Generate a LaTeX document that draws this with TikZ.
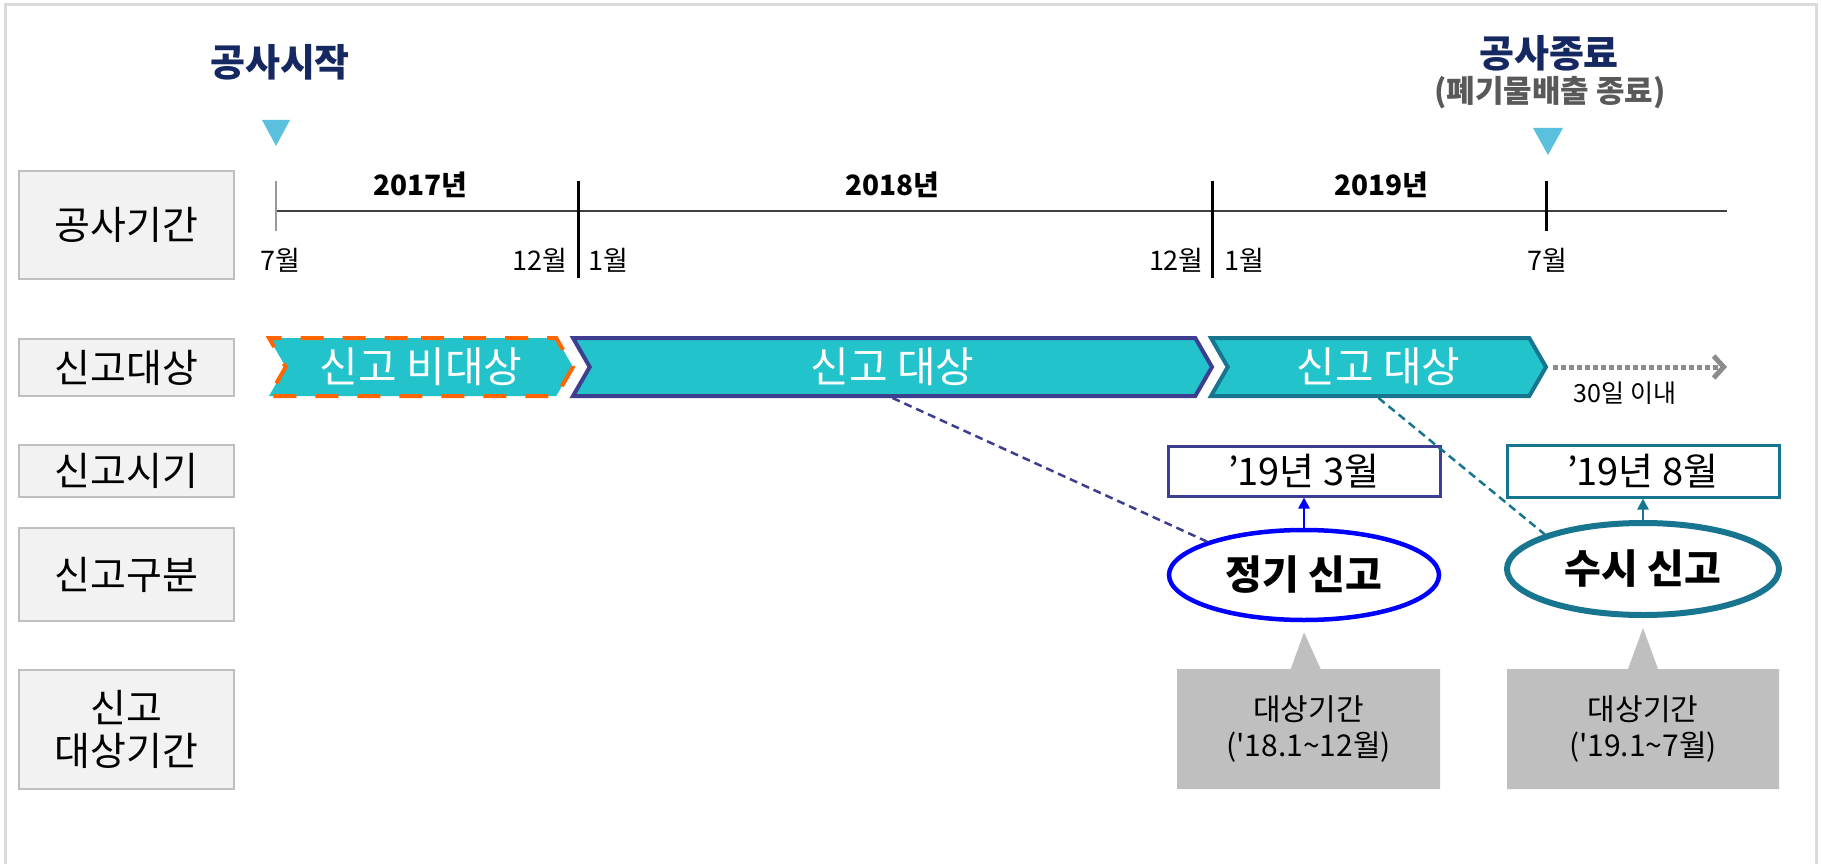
\documentclass[tikz,border=0pt]{standalone}
\usepackage{fontspec}
\setmainfont{Noto Sans CJK KR}
\usepackage{tikz}
\usetikzlibrary{arrows.meta,shapes.geometric,shapes.symbols,shapes.callouts,shadows}
\definecolor{cyanfill}{RGB}{35,195,204}
\definecolor{navytext}{RGB}{22,40,98}
\definecolor{periodline}{RGB}{62,62,145}
\definecolor{tealline}{RGB}{23,117,143}
\definecolor{markblue}{RGB}{91,192,222}
\definecolor{labelfill}{RGB}{242,242,242}
\definecolor{labelline}{RGB}{191,191,191}
\definecolor{calloutgray}{RGB}{191,191,191}
\definecolor{orangedash}{RGB}{255,102,0}
\definecolor{subgray}{RGB}{89,89,89}
\definecolor{framegray}{RGB}{218,218,218}
\newcommand{\fpx}[2]{\fontsize{#1pt}{#2pt}\selectfont}
\tikzstyle{rowlabel}=[draw=labelline,fill=labelfill,line width=2pt,minimum width=215pt,inner sep=0pt,align=center,font=\fpx{39}{43}]
\tikzstyle{milestone}=[text=navytext,font=\bfseries\fpx{38}{42}]
\tikzstyle{yearlabel}=[font=\bfseries\fpx{28}{32}]
\tikzstyle{monthlabel}=[font=\fpx{27}{30},inner sep=0pt]
\tikzstyle{chevron}=[signal,signal from=west,signal to=east,signal pointer angle=120,fill=cyanfill,line width=4pt,minimum height=58pt,inner sep=0pt,text=white,font=\fpx{42}{46}]
\tikzstyle{datebox}=[draw,fill=white,line width=3pt,minimum width=272pt,minimum height=50pt,inner sep=0pt,font=\fpx{38}{42}]
\tikzstyle{kind}=[ellipse,fill=white,inner sep=0pt,font=\bfseries\fpx{40}{44},drop shadow={shadow xshift=1pt,shadow yshift=-1.5pt,fill=black!30}]
\tikzstyle{span}=[rectangle callout,fill=calloutgray,minimum height=120pt,callout pointer width=30pt,align=center,font=\fpx{30}{36}]
\tikzstyle{marker}=[fill=markblue]
\tikzstyle{tick}=[line width=3pt]
\tikzstyle{link}=[line width=2.5pt,dash pattern=on 8pt off 5pt]

\begin{document}
\begin{tikzpicture}[x=1pt,y=-1pt]
\useasboundingbox (0,0) rectangle (1821,864);
\draw[framegray,line width=3pt] (5,864) -- (5,5) -- (1816,5) -- (1816,864);

% row titles
\node[rowlabel,minimum height=108pt] (rowperiod) at (126.5,225) {공사기간};
\node[rowlabel,minimum height=57pt] (rowtarget) at (126.5,367.5) {신고대상};
\node[rowlabel,minimum height=52pt] (rowtime) at (126.5,471) {신고시기};
\node[rowlabel,minimum height=93pt] (rowkind) at (126.5,574.5) {신고구분};
\node[rowlabel,minimum height=119pt] (rowspan) at (126.5,729.5) {신고\\대상기간};

% milestones
\node[milestone] (start) at (280,62) {공사시작};
\fill[marker] (262,120) -- (290,120) -- (276,146) -- cycle;
\node[milestone] (finish) at (1549,53) {공사종료};
\node[text=subgray,font=\bfseries\fpx{31}{34}] (finishsub) at (1550,93) {(폐기물배출 종료)};
\fill[marker] (1533,128) -- (1563,128) -- (1548,155) -- cycle;

% time axis
\coordinate (t0) at (275.5,211);
\coordinate (tend) at (1727,211);
\draw[black!75,line width=2pt] (t0) -- (tend);
\draw[black!40,line width=2pt] (275.5,181) -- (275.5,231);
\draw[tick] (578,181) -- (578,278);
\draw[tick] (1212,181) -- (1212,278);
\draw[tick] (1546,181) -- (1546,231);
\node[yearlabel] (y17) at (420,185) {2017년};
\node[yearlabel] (y18) at (892,185) {2018년};
\node[yearlabel] (y19) at (1381,185) {2019년};
\node[monthlabel] (m17a) at (280,260) {7월};
\node[monthlabel,anchor=east] (m17b) at (568,260) {12월};
\node[monthlabel,anchor=west] (m18a) at (588,260) {1월};
\node[monthlabel,anchor=east] (m18b) at (1204,260) {12월};
\node[monthlabel,anchor=west] (m19a) at (1224,260) {1월};
\node[monthlabel] (m19b) at (1547,260) {7월};

% report target
\node[chevron,draw=orangedash,dash pattern=on 23pt off 19pt,minimum width=304pt] (chevA) at (421,367) {신고 비대상};
\node[chevron,draw=periodline,minimum width=639pt] (chevB) at (892.5,367) {신고 대상};
\node[chevron,draw=tealline,minimum width=335pt] (chevC) at (1378.5,367) {신고 대상};
\coordinate (limit) at (1727,367);
\draw[black!45,line width=5pt,dash pattern=on 5pt off 3pt,-{Straight Barb[length=10pt,width=22pt]}] ([xshift=5pt]chevC.east) -- (limit);
\node[font=\fpx{25}{28}] (limittext) at (1625,393) {30일 이내};

% report time and kind
\node[datebox,draw=periodline] (due3) at (1304,471) {’\kern-1.5pt19년 3월};
\node[datebox,draw=tealline,minimum height=52pt] (due8) at (1643,471) {’\kern-1.5pt19년 8월};
\node[kind,draw=blue,line width=4.5pt,minimum width=270pt,minimum height=90pt] (regular) at (1304,575) {정기 신고};
\node[kind,draw=tealline,line width=6pt,minimum width=272pt,minimum height=92pt] (adhoc) at (1643,569) {수시 신고};
\draw[link,periodline] (chevB.south) -- (regular.north west);
\draw[link,tealline] (chevC.south) -- (adhoc.north west);
\draw[blue,line width=2.5pt,-{Triangle[length=11pt,width=11pt]}] (regular.north) -- (due3.south);
\draw[tealline,line width=2.5pt,-{Triangle[length=11pt,width=11pt]}] (adhoc.north) -- (due8.south);

% covered period
\node[span,minimum width=263pt,callout absolute pointer={([yshift=-10pt]regular.south)}] (span18) at (1308.5,729) {대상기간\\(\textquotesingle 18.1\textasciitilde 12월)};
\node[span,minimum width=272pt,callout absolute pointer={([yshift=-10pt]adhoc.south)}] (span19) at (1643,729) {대상기간\\(\textquotesingle 19.1\textasciitilde 7월)};
\end{tikzpicture}
\end{document}
